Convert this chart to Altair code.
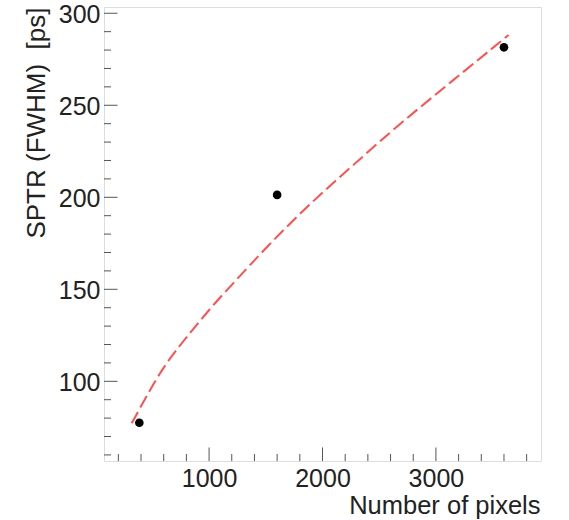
import altair as alt
import pandas as pd

# Measured points
pixels = [385, 1600, 3600]
sptr = [77.5, 201.3, 281.5]

# Fit curve
fit_x = [318, 494, 612, 744, 876, 1053, 1214, 1509, 1891, 2273, 2685, 3156, 3641]
fit_y = [77.2, 97.1, 108.9, 119.6, 129.6, 142.7, 153.3, 173.2, 196.7, 217.6, 240.2, 263.8, 288.2]

# Axis ticks
x_major = [1000, 2000, 3000]
x_minor = [200, 400, 600, 800, 1200, 1400, 1600, 1800, 2200, 2400, 2600, 2800,
           3200, 3400, 3600, 3800]
y_major = [100, 150, 200, 250, 300]
y_minor = [60, 70, 80, 90, 110, 120, 130, 140, 160, 170, 180, 190,
           210, 220, 230, 240, 260, 270, 280, 290]

W, H = 437, 454
FONT = "Liberation Sans"
xscale = alt.Scale(domain=[73.5, 3926.5], nice=False, zero=False)
yscale = alt.Scale(domain=[56.7, 303.4], nice=False, zero=False)

pts = pd.DataFrame({"x": pixels, "y": sptr})
fit = pd.DataFrame({"x": fit_x, "y": fit_y})

xaxis = alt.Axis(values=x_major, format="d", ticks=False, tickSize=0, domain=False, grid=False,
                 labelFontSize=25, labelFont=FONT, labelColor="#222", labelPadding=5,
                 title="Number of pixels", titleFont=FONT, titleFontSize=25.5,
                 titleFontWeight="normal", titleColor="#222", titleAnchor="end",
                 titleAlign="right", titleBaseline="alphabetic", titleY=52, titleX=W - 1)
yaxis = alt.Axis(values=y_major, format="d", ticks=False, tickSize=0, domain=False, grid=False,
                 labelFontSize=25, labelFont=FONT, labelColor="#222", labelPadding=4,
                 labelOffset=1.5,
                 title="SPTR (FWHM)\u00a0\u00a0[ps]", titleFont=FONT, titleFontSize=26,
                 titleFontWeight="normal", titleColor="#222", titleAngle=270,
                 titleAlign="right", titleBaseline="alphabetic", titleX=-60, titleY=0)

points = alt.Chart(pts).mark_circle(color="black", opacity=1, size=75).encode(
    x=alt.X("x:Q", scale=xscale, axis=xaxis),
    y=alt.Y("y:Q", scale=yscale, axis=yaxis),
)

line = alt.Chart(fit).mark_line(color="#ff5050", strokeWidth=2, strokeDash=[13, 5],
                                interpolate="basis").encode(
    x=alt.X("x:Q", scale=xscale), y=alt.Y("y:Q", scale=yscale))

def xticks(vals, length):
    return alt.Chart(pd.DataFrame({"v": vals})).mark_rule(color="#555", strokeWidth=1).encode(
        x=alt.X("v:Q", scale=xscale), y=alt.value(H), y2=alt.value(H - length))

def yticks(vals, length):
    return alt.Chart(pd.DataFrame({"v": vals})).mark_rule(color="#555", strokeWidth=1).encode(
        y=alt.Y("v:Q", scale=yscale), x=alt.value(0), x2=alt.value(length))

chart = alt.layer(
    xticks(x_major, 13.5), xticks(x_minor, 7),
    yticks(y_major, 13.5), yticks(y_minor, 7),
    line, points,
).properties(
    width=W, height=H,
    autosize=alt.AutoSizeParams(type="none"),
    padding={"left": 104, "top": 7, "right": 28, "bottom": 59},
).configure_view(stroke="#666", strokeWidth=1).configure(background="white")

chart.save("out.html", embed_options={"renderer": "svg", "actions": False})
